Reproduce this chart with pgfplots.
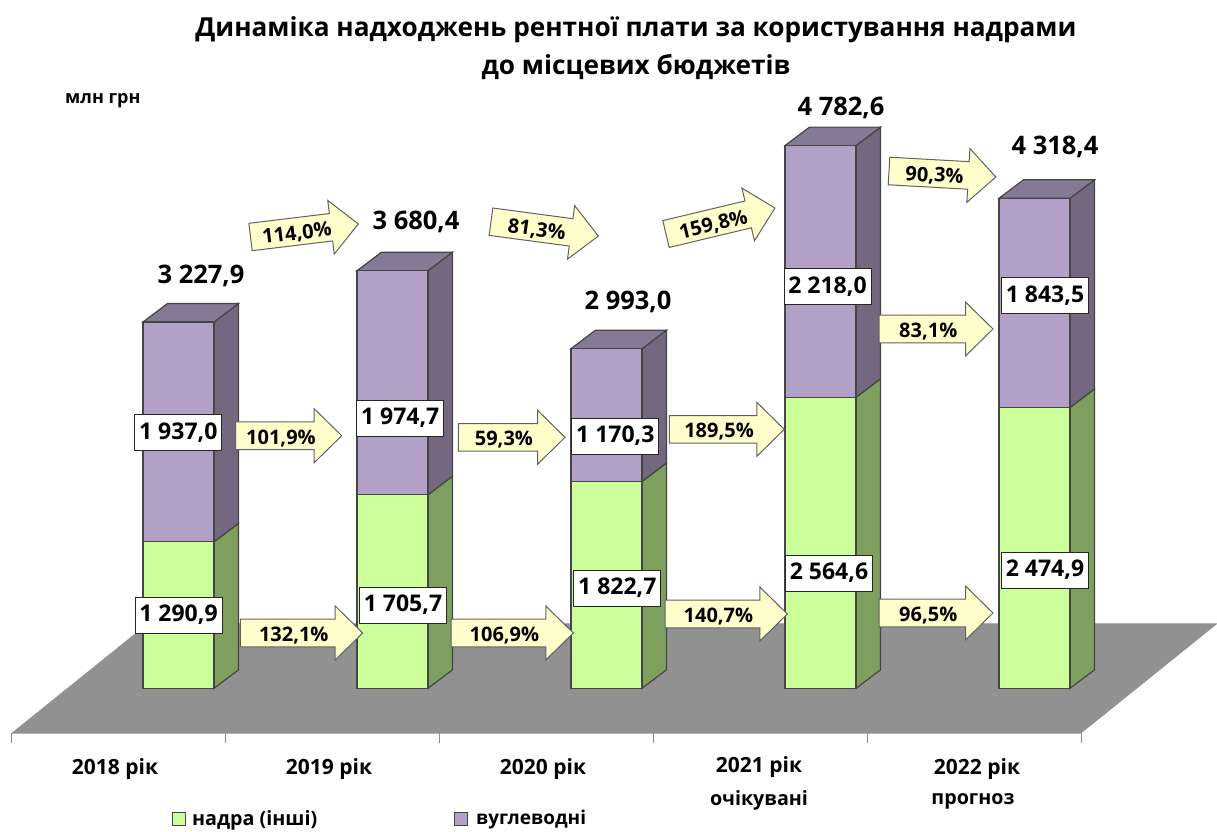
\documentclass[border=0pt]{standalone}
\usepackage{pgfplots}
\pgfplotsset{compat=1.18}
\usepackage{pgfplotstable}
\usepackage{fontspec}
\setmainfont{Open Sans}
\definecolor{gf}{HTML}{CCFF99}
\definecolor{gs}{HTML}{7F9F5F}
\definecolor{pf}{HTML}{B2A0C7}
\definecolor{ps}{HTML}{736880}
\definecolor{ptop}{HTML}{857A96}
\definecolor{fl}{HTML}{919191}
\definecolor{edg}{HTML}{454545}
\definecolor{arr}{HTML}{FFFFCC}
\pgfplotstableread{
x nadra vuhl
178.5 1290.9 1937.0
392.5 1705.7 1974.7
606.5 1822.7 1170.3
820.5 2564.6 2218.0
1034.5 2474.9 1843.5
}\datatable
\pgfplotsset{base/.style={hide axis,scale only axis,width=1217pt,height=831pt,xmin=0,xmax=1217,ymin=-1257.6,ymax=6065.9,clip=false,at={(0,0)},anchor=south west}}
% arrow: tail x, tail y, length, angle, label
\newcommand{\Arrow}[5]{%
\begin{scope}[shift={(#1,#2)},rotate=#4]
\draw[fill=arr,draw=edg!85,line width=1pt,line join=miter] (0,-13.8)--({#3-27.5},-13.8)--({#3-27.5},-27)--(#3,0)--({#3-27.5},27)--({#3-27.5},13.8)--(0,13.8)--cycle;
\node[rotate=#4,font=\fontsize{20}{22}\selectfont\bfseries,inner sep=0pt] at ({(#3-27.5)/2+6},2.5) {#5};
\end{scope}}
\newcommand{\VBox}[3]{\node[draw=black!85,fill=white,line width=1pt,minimum width=87pt,minimum height=36pt,inner sep=0pt,font=\fontsize{23}{25}\selectfont\bfseries] at (#1,#2) {\raisebox{-2pt}{#3}};}
\newcommand{\Tot}[3]{\node[font=\fontsize{25.5}{28}\selectfont\bfseries,inner sep=0pt] at (#1,#2+2) {#3};}
\newcommand{\Lab}[3]{\node[font=\fontsize{21}{24}\selectfont\bfseries,inner sep=0pt] at (#1,#2+2) {#3};}
\newcommand{\LabC}[3]{\node[font=\fontsize{19.7}{24}\selectfont\bfseries,inner sep=0pt] at (#1,#2+2) {#3};}
\begin{document}
\begin{tikzpicture}
\useasboundingbox (0,0) rectangle (1217pt,831pt);
\begin{axis}[base]
% floor
\addplot[fill=fl,draw=none] coordinates {(11,-398)(147,566.7)(1217,566.7)(1081,-398)} --cycle;
\addplot[draw=black!30,line width=1.2pt] coordinates {(11,-398)(1081,-398)};
\addplot[draw=black!30,line width=1pt] coordinates {(147,566.7)(1217,566.7)};
\addplot[draw=black!45,line width=1pt] coordinates {(11,-398)(11,-482)};
\addplot[draw=black!45,line width=1pt] coordinates {(225,-398)(225,-482)};
\addplot[draw=black!45,line width=1pt] coordinates {(439,-398)(439,-482)};
\addplot[draw=black!45,line width=1pt] coordinates {(653,-398)(653,-482)};
\addplot[draw=black!45,line width=1pt] coordinates {(867,-398)(867,-482)};
\addplot[draw=black!45,line width=1pt] coordinates {(1081,-398)(1081,-482)};
% side faces, lower
\addplot[fill=gs,draw=edg,line width=1.2pt] coordinates {(214,0)(238.5,163)(238.5,1453.9)(214,1290.9)} --cycle;
\addplot[fill=gs,draw=edg,line width=1.2pt] coordinates {(428,0)(452.5,163)(452.5,1868.7)(428,1705.7)} --cycle;
\addplot[fill=gs,draw=edg,line width=1.2pt] coordinates {(642,0)(666.5,163)(666.5,1985.7)(642,1822.7)} --cycle;
\addplot[fill=gs,draw=edg,line width=1.2pt] coordinates {(856,0)(880.5,163)(880.5,2727.6)(856,2564.6)} --cycle;
\addplot[fill=gs,draw=edg,line width=1.2pt] coordinates {(1070,0)(1094.5,163)(1094.5,2637.9)(1070,2474.9)} --cycle;
% side faces, upper
\addplot[fill=ps,draw=edg,line width=1.2pt] coordinates {(214,1290.9)(238.5,1453.9)(238.5,3390.9)(214,3227.9)} --cycle;
\addplot[fill=ps,draw=edg,line width=1.2pt] coordinates {(428,1705.7)(452.5,1868.7)(452.5,3843.4)(428,3680.4)} --cycle;
\addplot[fill=ps,draw=edg,line width=1.2pt] coordinates {(642,1822.7)(666.5,1985.7)(666.5,3156.0)(642,2993.0)} --cycle;
\addplot[fill=ps,draw=edg,line width=1.2pt] coordinates {(856,2564.6)(880.5,2727.6)(880.5,4945.6)(856,4782.6)} --cycle;
\addplot[fill=ps,draw=edg,line width=1.2pt] coordinates {(1070,2474.9)(1094.5,2637.9)(1094.5,4481.4)(1070,4318.4)} --cycle;
% top faces
\addplot[fill=ptop,draw=edg,line width=1.2pt] coordinates {(143,3227.9)(167.5,3390.9)(238.5,3390.9)(214,3227.9)} --cycle;
\addplot[fill=ptop,draw=edg,line width=1.2pt] coordinates {(357,3680.4)(381.5,3843.4)(452.5,3843.4)(428,3680.4)} --cycle;
\addplot[fill=ptop,draw=edg,line width=1.2pt] coordinates {(571,2993.0)(595.5,3156.0)(666.5,3156.0)(642,2993.0)} --cycle;
\addplot[fill=ptop,draw=edg,line width=1.2pt] coordinates {(785,4782.6)(809.5,4945.6)(880.5,4945.6)(856,4782.6)} --cycle;
\addplot[fill=ptop,draw=edg,line width=1.2pt] coordinates {(999,4318.4)(1023.5,4481.4)(1094.5,4481.4)(1070,4318.4)} --cycle;
\end{axis}
\begin{axis}[base,ybar stacked,bar width=71pt]
\addplot[fill=gf,draw=edg,line width=1.2pt] table[x=x,y=nadra] {\datatable};
\addplot[fill=pf,draw=edg,line width=1.2pt] table[x=x,y=vuhl] {\datatable};
\end{axis}
\begin{scope}[x=1pt,y=-1pt,yshift=831pt]
% title
\node[font=\fontsize{26.2}{30}\selectfont\bfseries,inner sep=0pt] at (636,30) {Динаміка надходжень рентної плати за користування надрами};
\node[font=\fontsize{26.2}{30}\selectfont\bfseries,inner sep=0pt] at (636,67) {до місцевих бюджетів};
\node[font=\fontsize{18}{20}\selectfont\bfseries,inner sep=0pt,anchor=west] at (65,101) {млн грн};
% totals
\Tot{201}{274}{3 227,9}
\Tot{416}{220}{3 680,4}
\Tot{628}{300}{2 993,0}
\Tot{841}{106}{4 782,6}
\Tot{1055}{145}{4 318,4}
% arrows
\Arrow{250.5}{237}{108.6}{6.9}{114,0\%}
\Arrow{491}{221.7}{108.3}{-7.6}{81,3\%}
\Arrow{666}{234}{112}{13.4}{159,8\%}
\Arrow{889}{171}{107}{-3.2}{90,3\%}
\Arrow{235.7}{435.7}{106}{0}{101,9\%}
\Arrow{458.3}{437.3}{106.7}{0}{59,3\%}
\Arrow{669.3}{429.3}{115}{0}{189,5\%}
\Arrow{879}{329}{114}{0}{83,1\%}
\Arrow{240.3}{633}{122.4}{0}{132,1\%}
\Arrow{451}{633}{122.3}{0}{106,9\%}
\Arrow{665}{614}{122.3}{0}{140,7\%}
\Arrow{879}{613}{114}{0}{96,5\%}
% value boxes
\VBox{178.5}{615}{1 290,9}
\VBox{403}{605}{1 705,7}
\VBox{617.3}{588}{1 822,7}
\VBox{829}{573}{2 564,6}
\VBox{1045}{570}{2 474,9}
\VBox{178.3}{432.3}{1 937,0}
\VBox{400.2}{418}{1 974,7}
\VBox{615.3}{436}{1 170,3}
\VBox{827.5}{287}{2 218,0}
\VBox{1045}{296}{1 843,5}
% categories
\Lab{115}{767}{2018 рік}
\Lab{329}{767}{2019 рік}
\Lab{543}{767}{2020 рік}
\Lab{759}{765}{2021 рік}
\LabC{759}{798}{очікувані}
\Lab{977}{767}{2022 рік}
\LabC{973}{799}{прогноз}
% legend
\draw[fill=gf,draw=edg,line width=1pt] (172.5,812) rectangle (185.5,825);
\node[font=\fontsize{19.7}{22}\selectfont\bfseries,inner sep=0pt,anchor=west] at (192,820) {надра (інші)};
\draw[fill=pf,draw=edg,line width=1pt] (454.5,812) rectangle (467.5,825);
\node[font=\fontsize{19}{22}\selectfont\bfseries,inner sep=0pt,anchor=west] at (476,820) {вуглеводні};
\end{scope}
\end{tikzpicture}
\end{document}
